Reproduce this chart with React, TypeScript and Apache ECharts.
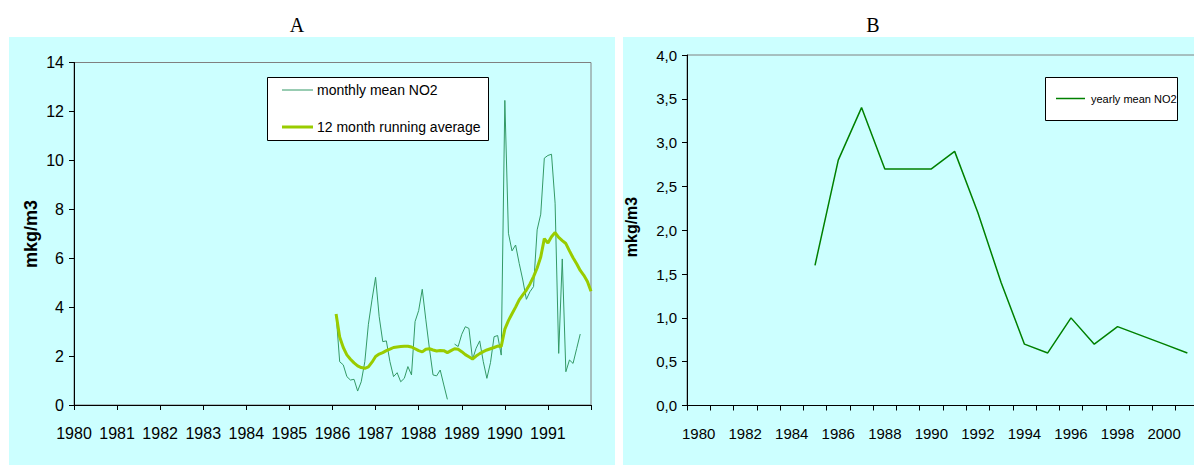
import React, { useEffect, useRef } from 'react';
import * as echarts from 'echarts';

// Panel A: x axis years (value axis), monthly data start 1986
const yearsA = [1980, 1981, 1982, 1983, 1984, 1985, 1986, 1987, 1988, 1989, 1990, 1991, 1992];
const monthlyStartYear = 1986;
const yTicksA = [0, 2, 4, 6, 8, 10, 12, 14];

const monthlyMean: (number | null)[] = [
  3.72, 1.77, 1.64, 1.16, 1.02, 1.05, 0.57, 0.95, 1.77, 3.3, 4.3, 5.22,
  3.61, 2.59, 2.62, 1.77, 1.16, 1.32, 0.95, 1.09, 1.57, 1.23, 3.41, 3.86,
  4.73, 3.48, 2.3, 1.23, 1.19, 1.43, 0.82, 0.23, null, 2.49, 2.39, 2.89,
  3.2, 3.13, 1.87, 2.32, 2.62, 1.77, 1.09, 1.73, 2.79, 2.84, 2.04, 12.45,
  7.02, 6.3, 6.54, 5.79, 5.11, 4.32, 4.63, 4.84, 7.16, 7.8, 10.09, 10.2,
  10.25, 8.25, 2.11, 5.97, 1.36, 1.84, 1.7, 2.3, 2.9, null, null, null,
];

const runningAvg: number[] = [
  3.72, 2.78, 2.35, 2.05, 1.87, 1.72, 1.6, 1.53, 1.5, 1.56, 1.75, 1.98,
  2.08, 2.14, 2.22, 2.28, 2.35, 2.37, 2.39, 2.4, 2.4, 2.37, 2.3, 2.22,
  2.17, 2.28, 2.3, 2.25, 2.21, 2.23, 2.22, 2.14, 2.22, 2.3, 2.28, 2.18,
  2.06, 1.97, 1.88, 2.0, 2.1, 2.18, 2.25, 2.3, 2.35, 2.41, 2.39, 3.1,
  3.45, 3.73, 4.0, 4.3, 4.5, 4.7, 4.95, 5.25, 5.6, 6.05, 6.8, 6.62,
  6.88, 7.05, 6.85, 6.72, 6.6, 6.3, 6.02, 5.77, 5.5, 5.3, 5.05, 4.65,
];

// Panel B
const yearsB = [
  '1980', '1981', '1982', '1983', '1984', '1985', '1986', '1987', '1988', '1989', '1990',
  '1991', '1992', '1993', '1994', '1995', '1996', '1997', '1998', '1999', '2000', '2001',
];
const yearlyMean: (number | null)[] = [
  null, null, null, null, null, 1.6, 2.8, 3.4, 2.7, 2.7, 2.7,
  2.9, 2.2, 1.4, 0.7, 0.6, 1.0, 0.7, 0.9, 0.8, 0.7, 0.6,
];

const FONT = 'Liberation Sans, Arial, sans-serif';

export default function App() {
  const ref = useRef<HTMLDivElement>(null);
  useEffect(() => {
    const chart = echarts.init(ref.current!, null, { renderer: 'svg' });
    const axisCommon = {
      axisLine: { show: true, lineStyle: { color: '#000', width: 1 } },
      axisTick: { show: true, length: 5, lineStyle: { color: '#000' } },
      splitLine: { show: false },
    };
    chart.setOption({
      animation: false,
      backgroundColor: 'transparent',
      textStyle: { fontFamily: FONT },
      grid: [
        { left: 74, top: 62.5, width: 517, height: 342.5, show: true, borderColor: '#808080', borderWidth: 1, backgroundColor: 'transparent' },
        { left: 687, top: 55, width: 512, height: 350.5, show: true, borderColor: '#808080', borderWidth: 1, backgroundColor: 'transparent' },
      ],
      xAxis: [
        {
          gridIndex: 0, type: 'value', min: yearsA[0], max: yearsA[yearsA.length - 1], interval: 1,
          ...axisCommon,
          axisLabel: {
            color: '#000', fontSize: 16, fontFamily: FONT, margin: 20, showMaxLabel: true,
            formatter: (v: number) => (v >= yearsA[yearsA.length - 1] ? '' : String(v)),
          },
        },
        {
          gridIndex: 1, type: 'category', data: yearsB, boundaryGap: true,
          ...axisCommon,
          axisTick: { show: true, length: 5, interval: 0, lineStyle: { color: '#000' } },
          axisLabel: { color: '#000', fontSize: 15, fontFamily: FONT, margin: 20, interval: 1 },
        },
      ],
      yAxis: [
        {
          gridIndex: 0, type: 'value', min: yTicksA[0], max: yTicksA[yTicksA.length - 1], interval: 2,
          ...axisCommon,
          axisLabel: { color: '#000', fontSize: 16, fontFamily: FONT, margin: 10 },
        },
        {
          gridIndex: 1, type: 'value', min: 0, max: 4, interval: 0.5,
          ...axisCommon,
          axisLabel: {
            color: '#000', fontSize: 15, fontFamily: FONT, margin: 10,
            formatter: (v: number) => v.toFixed(1).replace('.', ','),
          },
        },
      ],
      series: [
        {
          name: 'monthly mean NO2', type: 'line', xAxisIndex: 0, yAxisIndex: 0,
          data: monthlyMean.map((v, i) => [monthlyStartYear + (i + 1) / 12, v === null ? '-' : v]),
          symbol: 'none', connectNulls: false,
          lineStyle: { color: '#339966', width: 1 },
        },
        {
          name: '12 month running average', type: 'line', xAxisIndex: 0, yAxisIndex: 0,
          data: runningAvg.map((v, i) => [monthlyStartYear + (i + 1) / 12, v]),
          symbol: 'none',
          lineStyle: { color: '#99CC00', width: 3 },
        },
        {
          name: 'yearly mean NO2', type: 'line', xAxisIndex: 1, yAxisIndex: 1,
          data: yearlyMean.map((v) => (v === null ? '-' : v)),
          symbol: 'none', connectNulls: false,
          lineStyle: { color: '#008000', width: 1.5 },
        },
      ],
      graphic: [
        { type: 'text', x: 297, y: 25, style: { text: 'A', fontSize: 20, fontFamily: 'Liberation Serif, serif', fill: '#000', textAlign: 'center', textVerticalAlign: 'middle' } },
        { type: 'text', x: 873, y: 25, style: { text: 'B', fontSize: 20, fontFamily: 'Liberation Serif, serif', fill: '#000', textAlign: 'center', textVerticalAlign: 'middle' } },
        { type: 'text', x: 31, y: 234, rotation: Math.PI / 2, style: { text: 'mkg/m3', fontSize: 18, fontWeight: 'bold', fontFamily: FONT, fill: '#000', textAlign: 'center', textVerticalAlign: 'middle' } },
        { type: 'text', x: 631, y: 227, rotation: Math.PI / 2, style: { text: 'mkg/m3', fontSize: 16, fontWeight: 'bold', fontFamily: FONT, fill: '#000', textAlign: 'center', textVerticalAlign: 'middle' } },
        // Legend A
        { type: 'rect', z: 50, shape: { x: 267.5, y: 77.5, width: 221, height: 63 }, style: { fill: '#fff', stroke: '#000', lineWidth: 1 } },
        { type: 'line', z: 51, shape: { x1: 282, y1: 90, x2: 313, y2: 90 }, style: { stroke: '#339966', lineWidth: 1 } },
        { type: 'text', z: 51, x: 317, y: 90, style: { text: 'monthly mean NO2', fontSize: 14, fontFamily: FONT, fill: '#000', textVerticalAlign: 'middle' } },
        { type: 'line', z: 51, shape: { x1: 282, y1: 127, x2: 313, y2: 127 }, style: { stroke: '#99CC00', lineWidth: 3 } },
        { type: 'text', z: 51, x: 317, y: 127, style: { text: '12 month running average', fontSize: 14, fontFamily: FONT, fill: '#000', textVerticalAlign: 'middle' } },
        // Legend B
        { type: 'rect', z: 50, shape: { x: 1045.5, y: 77.5, width: 132, height: 43 }, style: { fill: '#fff', stroke: '#000', lineWidth: 1 } },
        { type: 'line', z: 51, shape: { x1: 1056, y1: 98.5, x2: 1085, y2: 98.5 }, style: { stroke: '#008000', lineWidth: 1.5 } },
        { type: 'text', z: 51, x: 1091, y: 98.5, style: { text: 'yearly mean NO2', fontSize: 11, fontFamily: FONT, fill: '#000', textVerticalAlign: 'middle' } },
      ],
    });
    return () => chart.dispose();
  }, []);

  return (
    <div style={{ position: 'fixed', left: 0, top: 0, width: 1194, height: 465, overflow: 'hidden', background: '#fff' }}>
      <div style={{ position: 'absolute', left: 9, top: 37, width: 606, height: 440, background: '#CCFFFF' }} />
      <div style={{ position: 'absolute', left: 623, top: 37, width: 600, height: 440, background: '#CCFFFF' }} />
      <div ref={ref} style={{ position: 'absolute', left: 0, top: 0, width: 1210, height: 465 }} />
    </div>
  );
}
